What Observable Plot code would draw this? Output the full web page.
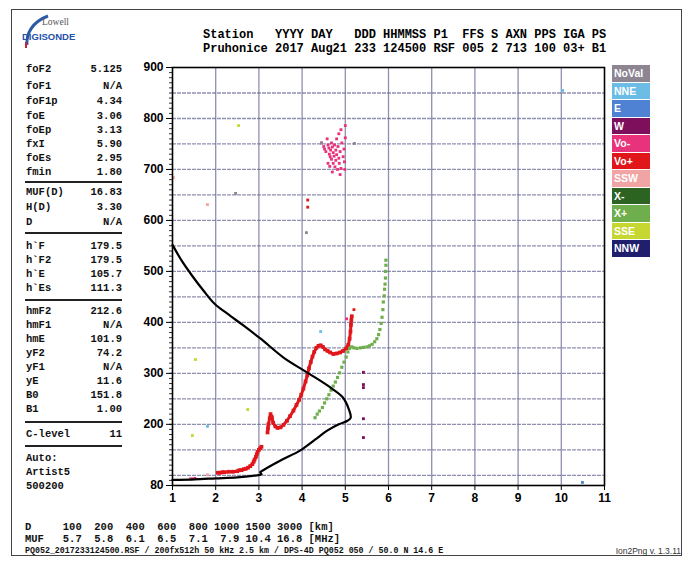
<!DOCTYPE html>
<html><head><meta charset="utf-8">
<script src="https://cdn.jsdelivr.net/npm/d3@7"></script>
<script src="https://cdn.jsdelivr.net/npm/@observablehq/plot@0.6"></script>
<style>
body{margin:0;background:#fff;}
#page{position:relative;width:691px;height:562px;overflow:hidden;background:#fff;}
#page svg.plot{position:absolute;left:0;top:0;}
.t{position:absolute;white-space:pre;line-height:1;transform:translateY(-50%);color:#111;}
.mono{font-family:"Liberation Mono","DejaVu Sans Mono",monospace;font-weight:bold;}
.hdr{font-family:"Liberation Mono","DejaVu Sans Mono",monospace;font-weight:bold;font-size:12px;color:#000;}
.leg{position:absolute;left:612px;width:38px;height:16.5px;color:#fff;font:bold 10.5px "Liberation Sans",Arial,sans-serif;line-height:16.5px;padding-left:2px;box-sizing:border-box;}
.div{position:absolute;left:25px;width:97px;height:2px;background:#222;}
</style></head><body><div id="page"></div>
<script>
// ---------- data ----------
const headerKeys = ["Station","YYYY","DAY","DDD","HHMMSS","P1","FFS","S","AXN","PPS","IGA","PS"];
const headerVals = ["Pruhonice","2017","Aug21","233","124500","RSF","005","2","713","100","03+","B1"];

const paramNames  = ["foF2","foF1","foF1p","foE","foEp","fxI","foEs","fmin","MUF(D)","H(D)","D","h`F","h`F2","h`E","h`Es","hmF2","hmF1","hmE","yF2","yF1","yE","B0","B1","C-level"];
const paramValues = ["5.125","N/A","4.34","3.06","3.13","5.90","2.95","1.80","16.83","3.30","N/A","179.5","179.5","105.7","111.3","212.6","N/A","101.9","74.2","N/A","11.6","151.8","1.00","11"];
const autoLines = ["Auto:","Artist5","500200"];

const distKm = ["100","200","400","600","800","1000","1500","3000"];
const mufMHz = ["5.7","5.8","6.1","6.5","7.1","7.9","10.4","16.8"];
const footer = "PQ052_2017233124500.RSF / 200fx512h 50 kHz 2.5 km / DPS-4D PQ052 050 / 50.0 N 14.6 E";
const version = "Ion2Png v. 1.3.11";

const legendNames  = ["NoVal","NNE","E","W","Vo-","Vo+","SSW","X-","X+","SSE","NNW"];
const legendColors = ["#8d8592","#6cbde6","#4f82d2","#7e0f5c","#e8337c","#e0161a","#f0a4a4","#2c6322","#6fae4c","#c6d731","#1f1f6e"];

const xTicks = [1,2,3,4,5,6,7,8,9,10,11];
const yTicks = [80,200,300,400,500,600,700,800,900];
const yGrid  = [100,150,200,250,300,350,400,450,500,550,600,650,700,750,800,850];
const xGrid  = [2,3,4,5,6,7,8,9,10];

// electron density profile (black line)
const profF = [1.0,1.5,2.0,2.5,2.95,3.06,3.03,3.1,3.5,3.96,4.3,4.59,4.85,5.05,5.125,5.08,4.94,4.66,4.15,3.57,3.04,2.64,2.27,1.98,1.72,1.45,1.22,1.0];
const profH = [91,92,94,96,100,102,106,110,129,149,170,188,200,207,213,230,253,272,300,331,368,394,417,436,462,492,520,552];

// O trace (Vo+): E segment then F segment, then isolated
const oEF = [2.05,2.1,2.15,2.2,2.3,2.4,2.5,2.55,2.6,2.65,2.7,2.75,2.8,2.85,2.88,2.9,2.93,2.95,2.97,3.0,3.03,3.06];
const oEH = [105,105,106,106,107,107,108,110,110,112,113,115,118,122,127,131,136,141,146,150,153,156];
const oFF = [3.2,3.21,3.22,3.25,3.27,3.3,3.33,3.38,3.43,3.5,3.57,3.65,3.72,3.8,3.87,3.93,3.98,4.03,4.08,4.12,4.16,4.2,4.24,4.28,4.33,4.38,4.43,4.48,4.53,4.59,4.65,4.72,4.8,4.88,4.95,5.02,5.07,5.1,5.12,5.13,5.14,5.15];
const oFH = [184,192,200,212,220,214,203,196,193,194,199,207,216,227,238,248,258,270,284,296,310,322,333,342,350,354,355,352,347,344,341,338,339,341,344,349,356,368,382,395,405,412];
const oIsoF = [5.2,4.13,4.13];
const oIsoH = [425,640,626];

// X trace (X+)
const xF = [4.3,4.35,4.4,4.47,4.52,4.57,4.62,4.67,4.72,4.77,4.82,4.87,4.92,4.97,5.02,5.06,5.1,5.15,5.2,5.27,5.35,5.42,5.5,5.56,5.62,5.68,5.73,5.77,5.8,5.83,5.85,5.87,5.88,5.9,5.91,5.92,5.93,5.93,5.94,5.94];
const xH = [213,220,226,233,242,250,258,267,275,283,292,301,312,322,332,342,349,352,350,349,350,351,352,354,357,362,368,376,386,398,410,425,440,452,465,475,487,500,512,522];

// Vo- scatter
const vmF = [4.45,4.5,4.52,4.55,4.58,4.6,4.62,4.63,4.65,4.66,4.68,4.68,4.7,4.72,4.72,4.74,4.75,4.76,4.78,4.78,4.8,4.8,4.82,4.83,4.85,4.85,4.86,4.88,4.9,4.9,4.92,4.95,4.97,5.0,5.0,4.98,4.7,4.88,4.6,4.64,4.99,5.03,1.42,1.48,1.52];
const vmH = [752,745,740,735,760,748,742,730,725,738,752,720,744,733,712,726,748,705,738,718,760,729,700,745,770,722,712,735,778,702,752,725,740,786,762,715,695,690,712,706,700,407,93,93,94];

// isolated echoes
const wF = [5.42,5.42,5.42,5.42,5.42];
const wH = [302,278,272,211,174];
const nneF = [4.43,1.81,10.03];
const nneH = [382,196,855];
const eF = [10.49];
const eH = [86];
const sseF = [2.53,1.53,1.46,2.74,2.05];
const sseH = [786,327,178,229,106];
const sswF = [1.02,1.81,1.81];
const sswH = [684,631,101];
const noValF = [2.46,4.1,5.21,4.45];
const noValH = [653,576,751,752];

// ---------- build ----------
const pts = (fs, hs, mode, seg) => fs.map((f, i) => ({f, h: hs[i], mode, seg}));
const oTrace = [...pts(oEF, oEH, "Vo+", "E"), ...pts(oFF, oFH, "Vo+", "F")];
const xTrace = pts(xF, xH, "X+", "X");
const scatter = [...pts(vmF, vmH, "Vo-"), ...pts(wF, wH, "W"), ...pts(nneF, nneH, "NNE"), ...pts(eF, eH, "E"),
                 ...pts(sseF, sseH, "SSE"), ...pts(sswF, sswH, "SSW"), ...pts(noValF, noValH, "NoVal"), ...pts(oIsoF, oIsoH, "Vo+")];
const profile = profF.map((f, i) => ({f, h: profH[i]}));

const gridColor = "#6a6a96";
const chart = Plot.plot({
  width: 691, height: 562,
  marginLeft: 172, marginRight: 87, marginTop: 67, marginBottom: 77,
  style: {fontFamily: "'Liberation Sans', Arial, sans-serif", background: "transparent", overflow: "visible"},
  x: {domain: [1, 11], label: null},
  y: {domain: [80, 900], label: null},
  color: {domain: legendNames, range: legendColors},
  marks: [
    Plot.gridY(yGrid, {stroke: gridColor, strokeOpacity: 0.75, strokeWidth: 1.3, strokeDasharray: "4,1"}),
    Plot.gridX(xGrid, {stroke: gridColor, strokeOpacity: 0.75, strokeWidth: 1.3}),
    Plot.axisY({ticks: d3.range(80, 901, 10), tickSize: 3, tickFormat: () => "", stroke: "#333"}),
    Plot.axisY({ticks: yTicks, tickSize: 6, tickPadding: 3, fontSize: 12, fontWeight: "bold", stroke: "#000"}),
    Plot.axisX({ticks: xTicks, tickSize: 5, tickPadding: 3, fontSize: 12, fontWeight: "bold", tickFormat: d => String(d)}),
    Plot.dot(scatter, {x: "f", y: "h", fill: "mode", symbol: "square", r: 1.6}),
    Plot.line(oTrace, {x: "f", y: "h", z: "seg", stroke: "#e0161a", strokeWidth: 3, curve: "linear"}),
    Plot.dot(oTrace, {x: "f", y: "h", fill: "mode", symbol: "square", r: 2.1}),
    Plot.dot(xTrace, {x: "f", y: "h", fill: "mode", symbol: "square", r: 1.8}),
    Plot.line(profile, {x: "f", y: "h", stroke: "#000", strokeWidth: 2.2, curve: "catmull-rom"}),
    Plot.frame({stroke: "#000", strokeWidth: 1.6})
  ]
});
chart.classList.add("plot");
const page = document.getElementById("page");
page.appendChild(chart);

function txt(s, x, y, cls, size, align, color) {
  const d = document.createElement("div");
  d.className = "t " + cls;
  d.textContent = s;
  d.style.fontSize = size + "px";
  d.style.top = y + "px";
  if (align === "right") d.style.right = (691 - x) + "px"; else d.style.left = x + "px";
  if (color) d.style.color = color;
  page.appendChild(d);
  return d;
}

// outer border
const border = document.createElement("div");
Object.assign(border.style, {position: "absolute", left: "11px", top: "9px", width: "671px", height: "547px", border: "1px solid #444", boxSizing: "border-box"});
page.appendChild(border);

// logo
const logo = document.createElementNS("http://www.w3.org/2000/svg", "svg");
logo.setAttribute("width", "60"); logo.setAttribute("height", "40");
Object.assign(logo.style, {position: "absolute", left: "18px", top: "12px"});
logo.innerHTML = '<path d="M9 33 C8 22 14 10 30 4" fill="none" stroke="#2c5aa8" stroke-width="3"/><path d="M8 36 L8 30" stroke="#c8202a" stroke-width="2"/>';
page.appendChild(logo);
txt("Lowell", 42, 23, "", 9.5, "left", "#555").style.fontFamily = "'Liberation Serif',serif";
const dg = txt("DIGISONDE", 22, 37, "", 9.5, "left", "#2352a6");
dg.style.fontFamily = "'Liberation Sans',Arial,sans-serif"; dg.style.fontWeight = "bold";

// header (fixed-width columns)
const keyGaps = ["   "," ","   "," "," ","  "," "," "," "," "," "];
const line1 = headerKeys.reduce((s, k, i) => s + (i ? keyGaps[i - 1] : "") + k, "");
const line2 = headerVals.join(" ");
txt(line1, 203, 35, "hdr", 12, "left");
txt(line2, 203, 49, "hdr", 12, "left");

// left panel
const rowY = [69,86,101,116,130,144,158,172,192,207,222,246,260,274,288,311,325,339,353,367,381,395,409,434];
paramNames.forEach((n, i) => {
  txt(n, 26, rowY[i], "mono", 10.5, "left");
  txt(paramValues[i], 122, rowY[i], "mono", 10.5, "right");
});
[181,232,299,421,445].forEach(y => {
  const d = document.createElement("div"); d.className = "div"; d.style.top = y + "px"; page.appendChild(d);
});
autoLines.forEach((s, i) => txt(s, 26, 458 + i * 14, "mono", 10.5, "left"));

// legend
legendNames.forEach((n, i) => {
  const d = document.createElement("div");
  d.className = "leg"; d.textContent = n;
  d.style.top = (65 + i * 17.5) + "px";
  d.style.background = legendColors[i];
  page.appendChild(d);
});

// bottom rows
txt("D".padEnd(4) + distKm.map(v => v.padStart(5)).join("") + " [km]", 25, 527, "mono", 10.5, "left");
txt("MUF".padEnd(4) + mufMHz.map(v => v.padStart(5)).join("") + " [MHz]", 25, 539, "mono", 10.5, "left");
txt(footer, 25, 551, "mono", 8.3, "left");
const vv = txt(version, 681, 551, "", 8.5, "right", "#333");
vv.style.fontFamily = "'Liberation Sans',Arial,sans-serif";
</script></body></html>
